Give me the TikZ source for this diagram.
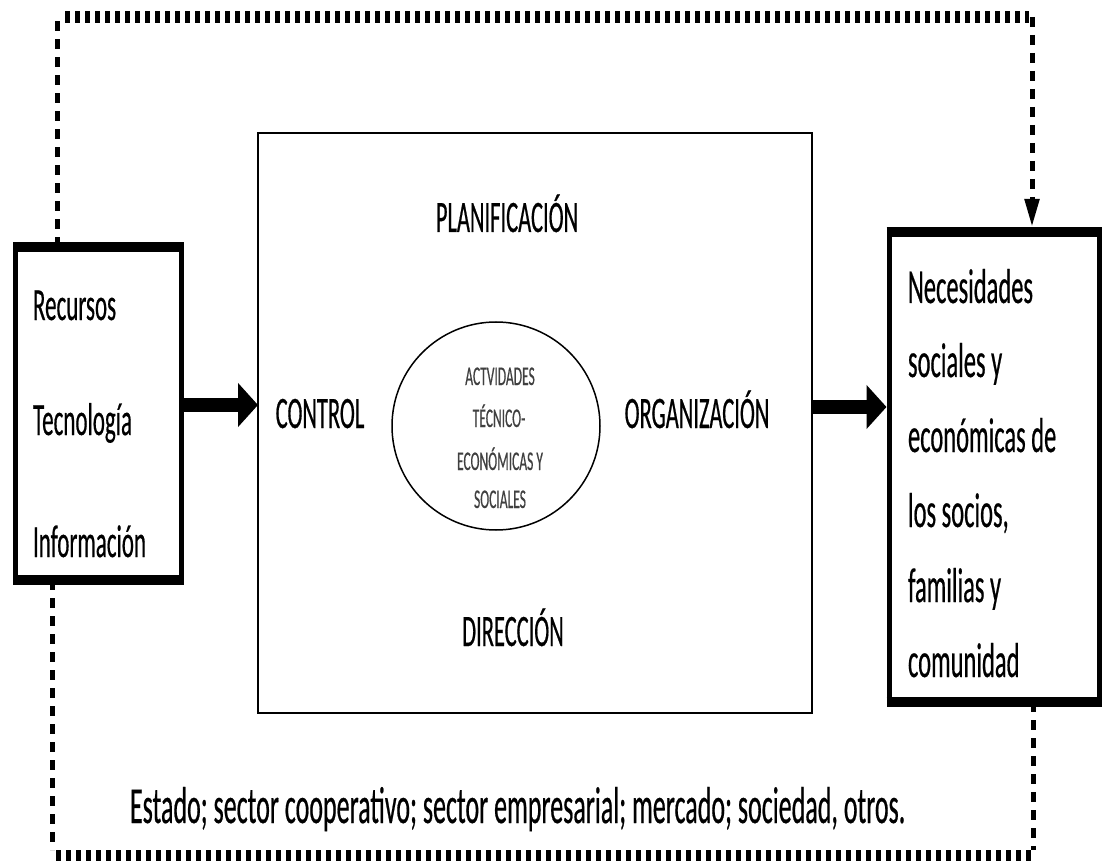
\documentclass[tikz,border=0pt]{standalone}
\usepackage{fontspec}
\newfontfamily\cf{Carlito}[FakeStretch=0.5, FakeBold=0.4]
\usetikzlibrary{arrows.meta}
\definecolor{circtext}{HTML}{404040}
\begin{document}
\begin{tikzpicture}[x=1pt,y=-1pt,
  thickbox/.style={draw, line width=5pt, inner sep=0pt, outer sep=0pt},
  thinbox/.style={draw, line width=1.5pt, inner sep=0pt, outer sep=0pt},
  txt/.style={inner sep=0pt, outer sep=0pt},
  fleft/.style={font=\cf\fontsize{46}{46}\selectfont},
  fright/.style={font=\cf\fontsize{49}{49}\selectfont},
  fmid/.style={font=\cf\fontsize{45}{45}\selectfont},
  fcirc/.style={font=\cf\fontsize{27}{27}\selectfont, text=circtext},
  fbot/.style={font=\cf\fontsize{52}{52}\selectfont},
  bigarrow/.style={line width=14pt, -{Triangle[length=20pt, width=43pt]}},
  vdash/.style={line width=5pt, dash pattern=on 10pt off 8pt},
  hdot/.style={line width=12pt, dash pattern=on 5pt off 5pt},
  smallhead/.style={-{Triangle[length=28pt, width=14pt]}}
]
\useasboundingbox (0,0) rectangle (1104,861);

% boxes
\node[thickbox, minimum width=166pt, minimum height=333pt] (L) at (98.5,413.5) {};
\node[thinbox, minimum width=554pt, minimum height=580pt] (C) at (535,423) {};
\node[thickbox, minimum width=210pt, minimum height=470pt] (R) at (994,467) {};
\node[draw, circle, line width=1.5pt, minimum size=208pt, inner sep=0pt] (circ) at (496,426) {};

% heavier horizontal edges
\draw[line width=10pt] ([xshift=-2.5pt]L.north west) -- ([xshift=2.5pt]L.north east);
\draw[line width=10pt] ([xshift=-2.5pt]L.south west) -- ([xshift=2.5pt]L.south east);
\draw[line width=10pt] ([xshift=-2.5pt]R.north west) -- ([xshift=2.5pt]R.north east);
\draw[line width=10pt] ([xshift=-2.5pt]R.south west) -- ([xshift=2.5pt]R.south east);

% left box text
\node[txt, fleft, anchor=base west] (rec) at (33,320) {Recursos};
\node[txt, fleft, anchor=base west] (tec) at (33,435) {Tecnología};
\node[txt, fleft, anchor=base west] (inf) at (33,557) {Información};

% right box text
\node[txt, fright, anchor=base west] (r1) at (908,303) {Necesidades};
\node[txt, fright, anchor=base west] (r2) at (908,377) {sociales y};
\node[txt, fright, anchor=base west] (r3) at (908,452) {económicas de};
\node[txt, fright, anchor=base west] (r4) at (908,527) {los socios,};
\node[txt, fright, anchor=base west] (r5) at (908,602) {familias y};
\node[txt, fright, anchor=base west] (r6) at (908,677) {comunidad};

% center labels
\node[txt, fmid, anchor=base] (plan) at (507,232) {PLANIFICACIÓN};
\node[txt, fmid, anchor=base] (ctrl) at (320,428) {CONTROL};
\node[txt, fmid, anchor=base] (org) at (697,428) {ORGANIZACIÓN};
\node[txt, fmid, anchor=base] (dir) at (513,646) {DIRECCIÓN};

% circle text
\node[txt, fcirc, anchor=base] (c1) at (500,385) {ACTVIDADES};
\node[txt, fcirc, anchor=base] (c2) at (499,427) {TÉCNICO-};
\node[txt, fcirc, anchor=base] (c3) at (500,470) {ECONÓMICAS Y};
\node[txt, fcirc, anchor=base] (c4) at (500,508) {SOCIALES};

% bottom text
\node[txt, fbot, anchor=base west] (bot) at (130,823) {Estado; sector cooperativo; sector empresarial; mercado; sociedad, otros.};

% main arrows
\draw[bigarrow] (L.east |- 0,405) -- (C.west |- 0,405);
\draw[bigarrow, shorten >=2.5pt] (C.east |- 0,407) -- (R.west |- 0,407);

% dotted frame
\coordinate (t1) at (57,17);
\coordinate (t2) at (1032,17);
\coordinate (b1) at (52,856);
\coordinate (b2) at (1033,856);
\draw[vdash] (t1 |- L.north) -- (t1);
\draw[hdot] ([xshift=8pt]t1) -- ([xshift=-3pt]t2);
\draw[vdash, smallhead, shorten >=5pt] (t2) -- (t2 |- R.north);
\draw[vdash] (b1 |- L.south) -- ([yshift=6pt]b1);
\draw[hdot] ([xshift=4pt]b1) -- (b2);
\draw[vdash] (b2 |- R.south) -- ([yshift=6pt]b2);
\end{tikzpicture}
\end{document}
